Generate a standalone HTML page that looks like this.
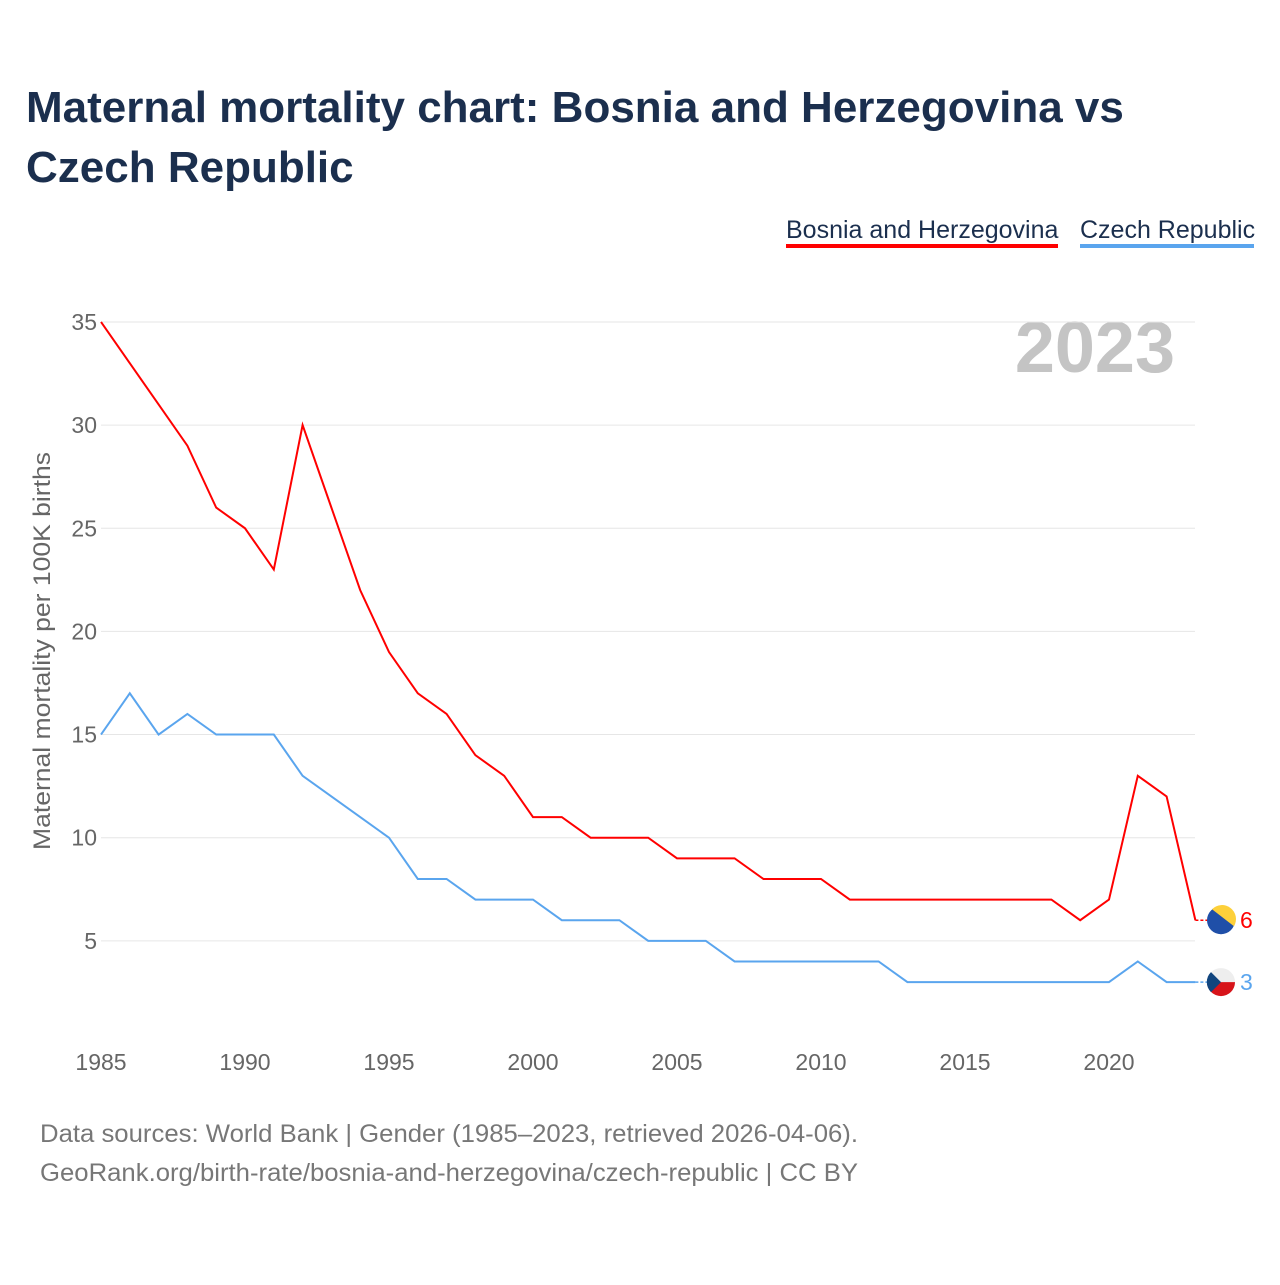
<!DOCTYPE html>
<html><head><meta charset="utf-8"><style>
body{margin:0;background:#fff;font-family:"Liberation Sans",sans-serif}
</style></head><body>
<svg width="1280" height="1280" xmlns="http://www.w3.org/2000/svg">
<text x="26" y="122" font-size="44" font-weight="bold" fill="#1b2f4e">Maternal mortality chart: Bosnia and Herzegovina vs</text>
<text x="26" y="182" font-size="44" font-weight="bold" fill="#1b2f4e">Czech Republic</text>
<g><text x="786" y="238" font-size="25" fill="#1b2f4e">Bosnia and Herzegovina</text><rect x="786" y="244" width="272" height="4" fill="#ff0000"/></g>
<g><text x="1080" y="238" font-size="25" fill="#1b2f4e">Czech Republic</text><rect x="1080" y="244" width="174" height="4" fill="#5aa5ee"/></g>
<text x="1175" y="372" font-size="72" font-weight="bold" fill="#c4c4c4" text-anchor="end">2023</text>
<g id="grid"></g><g id="axes"></g><g id="lines"></g>
<text transform="translate(50,651) rotate(-90)" font-size="24" fill="#666" text-anchor="middle" textLength="398" lengthAdjust="spacingAndGlyphs">Maternal mortality per 100K births</text>
<text x="40" y="1142" font-size="25" fill="#777" textLength="818" lengthAdjust="spacingAndGlyphs">Data sources: World Bank | Gender (1985–2023, retrieved 2026-04-06).</text>
<text x="40" y="1181" font-size="25" fill="#777" textLength="818" lengthAdjust="spacingAndGlyphs">GeoRank.org/birth-rate/bosnia-and-herzegovina/czech-republic | CC BY</text>
</svg>
<script>
const years=[];for(let y=1985;y<=2023;y++)years.push(y);
const bosnia=[35,33,31,29,26,25,23,30,26,22,19,17,16,14,13,11,11,10,10,10,9,9,9,8,8,8,7,7,7,7,7,7,7,7,6,7,13,12,6];
const czech=[15,17,15,16,15,15,15,13,12,11,10,8,8,7,7,7,6,6,6,5,5,5,4,4,4,4,4,4,3,3,3,3,3,3,3,3,4,3,3];
const yTicks=[5,10,15,20,25,30,35];
const xTicks=[1985,1990,1995,2000,2005,2010,2015,2020];
const NS="http://www.w3.org/2000/svg";
const X=y=>101+(y-1985)*28.8, Y=v=>1044-v*20.63;
function mk(t,a,p){const e=document.createElementNS(NS,t);for(const k in a)e.setAttribute(k,a[k]);p.appendChild(e);return e;}
const g=document.getElementById('grid'),ax=document.getElementById('axes'),ln=document.getElementById('lines');
yTicks.forEach(v=>{const l=mk('line',{x1:101,x2:1195,y1:Y(v),y2:Y(v),stroke:'#e6e6e6'},g);


const t=mk('text',{x:97,y:Y(v)+8,'font-size':23,fill:'#666','text-anchor':'end'},ax);t.textContent=v;

});
xTicks.forEach(v=>{const t=mk('text',{x:X(v),y:1070,'font-size':23,fill:'#666','text-anchor':'middle'},ax);t.textContent=v;

});
function series(d,c,name,flag){
const p=mk('polyline',{points:d.map((v,i)=>X(years[i])+','+Y(v)).join(' '),fill:'none',stroke:c,'stroke-width':2},ln);


const last=d[d.length-1],lx=X(2023),ly=Y(last);
mk('line',{x1:lx,x2:1208,y1:ly,y2:ly,stroke:c,'stroke-width':1.5,'stroke-dasharray':'3,2'},ln);
const f=mk('g',{},ln);


if(flag==='ba'){mk('circle',{cx:1221,cy:ly,r:14,fill:'#1f4fa8'},f);mk('path',{d:`M1212 ${ly-11} A14 14 0 0 1 1234 ${ly+6} Z`,fill:'#fdd03a'},f);}
else{mk('circle',{cx:1221,cy:ly,r:14,fill:'#eee'},f);mk('path',{d:`M1207 ${ly} H1235 A14 14 0 0 1 1207 ${ly} Z`,fill:'#d7141a'},f);mk('path',{d:`M1211 ${ly-10} L1221 ${ly} L1211 ${ly+10} A14 14 0 0 1 1211 ${ly-10} Z`,fill:'#11457e'},f);}
const t=mk('text',{x:1240,y:ly+8,'font-size':23,fill:c},ln);t.textContent=last;

}
series(bosnia,'#ff0000','bosnia','ba');
series(czech,'#5aa5ee','czech','cz');
</script></body></html>
